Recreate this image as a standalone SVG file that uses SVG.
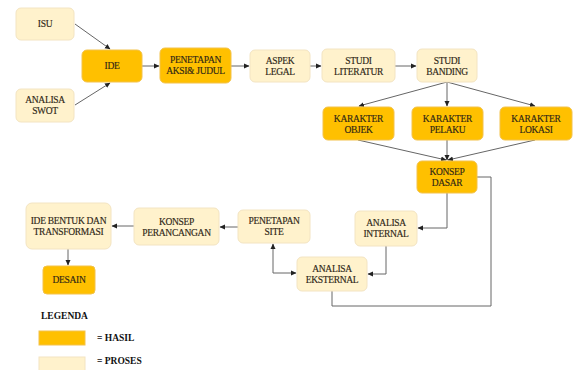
<svg xmlns="http://www.w3.org/2000/svg" width="573" height="370" viewBox="0 0 573 370">
<defs>
<marker id="ah" markerWidth="6" markerHeight="6" refX="5" refY="3" orient="auto-start-reverse" markerUnits="userSpaceOnUse">
<path d="M0,0.5 L5.5,3 L0,5.5 z" fill="#222"/>
</marker>
<style>
.h{fill:#FFC000;stroke:#F3C24A;stroke-width:1}
.p{fill:#FFF2CC;stroke:#F3E4C2;stroke-width:1}
.t{font-family:"Liberation Serif","Times New Roman",serif;font-size:9.5px;letter-spacing:-0.3px;fill:#2e2616;text-anchor:middle;stroke:#2e2616;stroke-width:0.15}
.l{font-family:"Liberation Serif","Times New Roman",serif;font-size:9.5px;font-weight:bold;fill:#111}
.c{fill:none;stroke:#666;stroke-width:1}
</style>
</defs>
<rect width="573" height="370" fill="#fff"/>
<g id="connectors">
<line class="c" x1="75" y1="24" x2="110" y2="49" marker-end="url(#ah)"/>
<line class="c" x1="75" y1="105" x2="110" y2="83" marker-end="url(#ah)"/>
<line class="c" x1="142" y1="66" x2="159" y2="66" marker-end="url(#ah)"/>
<line class="c" x1="231" y1="66" x2="249" y2="66" marker-end="url(#ah)"/>
<line class="c" x1="310" y1="66" x2="321" y2="66" marker-end="url(#ah)"/>
<line class="c" x1="395" y1="66" x2="416" y2="66" marker-end="url(#ah)"/>
<line class="c" x1="447" y1="82" x2="359" y2="106" marker-end="url(#ah)"/>
<line class="c" x1="447" y1="82" x2="447" y2="106" marker-end="url(#ah)"/>
<line class="c" x1="447" y1="82" x2="535" y2="106" marker-end="url(#ah)"/>
<line class="c" x1="358" y1="140" x2="446" y2="160" marker-end="url(#ah)"/>
<line class="c" x1="447" y1="140" x2="447" y2="160" marker-end="url(#ah)"/>
<line class="c" x1="535" y1="140" x2="448" y2="160" marker-end="url(#ah)"/>
<polyline class="c" points="447,193 447,228 418,228" marker-end="url(#ah)"/>
<polyline class="c" points="386,246 386,274 368,274" marker-end="url(#ah)"/>
<polyline class="c" points="477,177 491,177 491,306 332,306 332,291"/>
<polyline class="c" points="273,244 273,273 296,273" marker-start="url(#ah)" marker-end="url(#ah)"/>
<line class="c" x1="238" y1="227" x2="220" y2="227" marker-end="url(#ah)"/>
<line class="c" x1="134" y1="226" x2="112" y2="226" marker-end="url(#ah)"/>
<line class="c" x1="68" y1="249" x2="68" y2="265" marker-end="url(#ah)"/>
</g>
<g id="isu"><rect class="p" x="16" y="8" width="58" height="32" rx="5"/><text class="t" x="45" y="27">ISU</text></g>
<g id="swot"><rect class="p" x="16" y="89" width="58" height="33" rx="5"/><text class="t" x="45" y="103">ANALISA</text><text class="t" x="45" y="114">SWOT</text></g>
<g id="ide"><rect class="h" x="82" y="50" width="60" height="32" rx="5"/><text class="t" x="112" y="69">IDE</text></g>
<g id="penetapan"><rect class="h" x="160" y="48" width="71" height="35" rx="5"/><text class="t" x="195.5" y="63">PENETAPAN</text><text class="t" x="195.5" y="74">AKSI&amp; JUDUL</text></g>
<g id="aspek"><rect class="p" x="250" y="50" width="60" height="32" rx="5"/><text class="t" x="280" y="64">ASPEK</text><text class="t" x="280" y="75">LEGAL</text></g>
<g id="literatur"><rect class="p" x="322" y="49" width="73" height="33" rx="5"/><text class="t" x="358.5" y="64">STUDI</text><text class="t" x="358.5" y="75">LITERATUR</text></g>
<g id="banding"><rect class="p" x="417" y="49" width="60" height="33" rx="5"/><text class="t" x="447" y="64">STUDI</text><text class="t" x="447" y="75">BANDING</text></g>
<g id="objek"><rect class="h" x="323" y="107" width="71" height="33" rx="5"/><text class="t" x="358.5" y="122">KARAKTER</text><text class="t" x="358.5" y="133">OBJEK</text></g>
<g id="pelaku"><rect class="h" x="412" y="107" width="71" height="33" rx="5"/><text class="t" x="447.5" y="122">KARAKTER</text><text class="t" x="447.5" y="133">PELAKU</text></g>
<g id="lokasi"><rect class="h" x="500" y="107" width="72" height="33" rx="5"/><text class="t" x="536" y="122">KARAKTER</text><text class="t" x="536" y="133">LOKASI</text></g>
<g id="konsep-dasar"><rect class="h" x="417" y="161" width="60" height="32" rx="5"/><text class="t" x="447" y="175">KONSEP</text><text class="t" x="447" y="186">DASAR</text></g>
<g id="internal"><rect class="p" x="355" y="211" width="62" height="35" rx="5"/><text class="t" x="386" y="226">ANALISA</text><text class="t" x="386" y="237">INTERNAL</text></g>
<g id="eksternal"><rect class="p" x="297" y="257" width="70" height="34" rx="5"/><text class="t" x="332" y="272">ANALISA</text><text class="t" x="332" y="283">EKSTERNAL</text></g>
<g id="site"><rect class="p" x="238" y="210" width="72" height="33" rx="5"/><text class="t" x="274" y="224">PENETAPAN</text><text class="t" x="274" y="235">SITE</text></g>
<g id="perancangan"><rect class="p" x="134" y="208" width="85" height="37" rx="5"/><text class="t" x="176.5" y="225">KONSEP</text><text class="t" x="176.5" y="236">PERANCANGAN</text></g>
<g id="transformasi"><rect class="p" x="26" y="203" width="85" height="46" rx="6"/><text class="t" x="68.5" y="224">IDE BENTUK DAN</text><text class="t" x="68.5" y="235">TRANSFORMASI</text></g>
<g id="desain"><rect class="h" x="43" y="266" width="52" height="28" rx="4"/><text class="t" x="69" y="283">DESAIN</text></g>
<g id="legend">
<text class="l" x="41" y="319">LEGENDA</text>
<rect class="h" x="39" y="331" width="46" height="14"/>
<text class="l" x="97" y="341">= HASIL</text>
<rect class="p" x="39" y="357" width="46" height="16"/>
<text class="l" x="97" y="364">= PROSES</text>
</g>
</svg>
